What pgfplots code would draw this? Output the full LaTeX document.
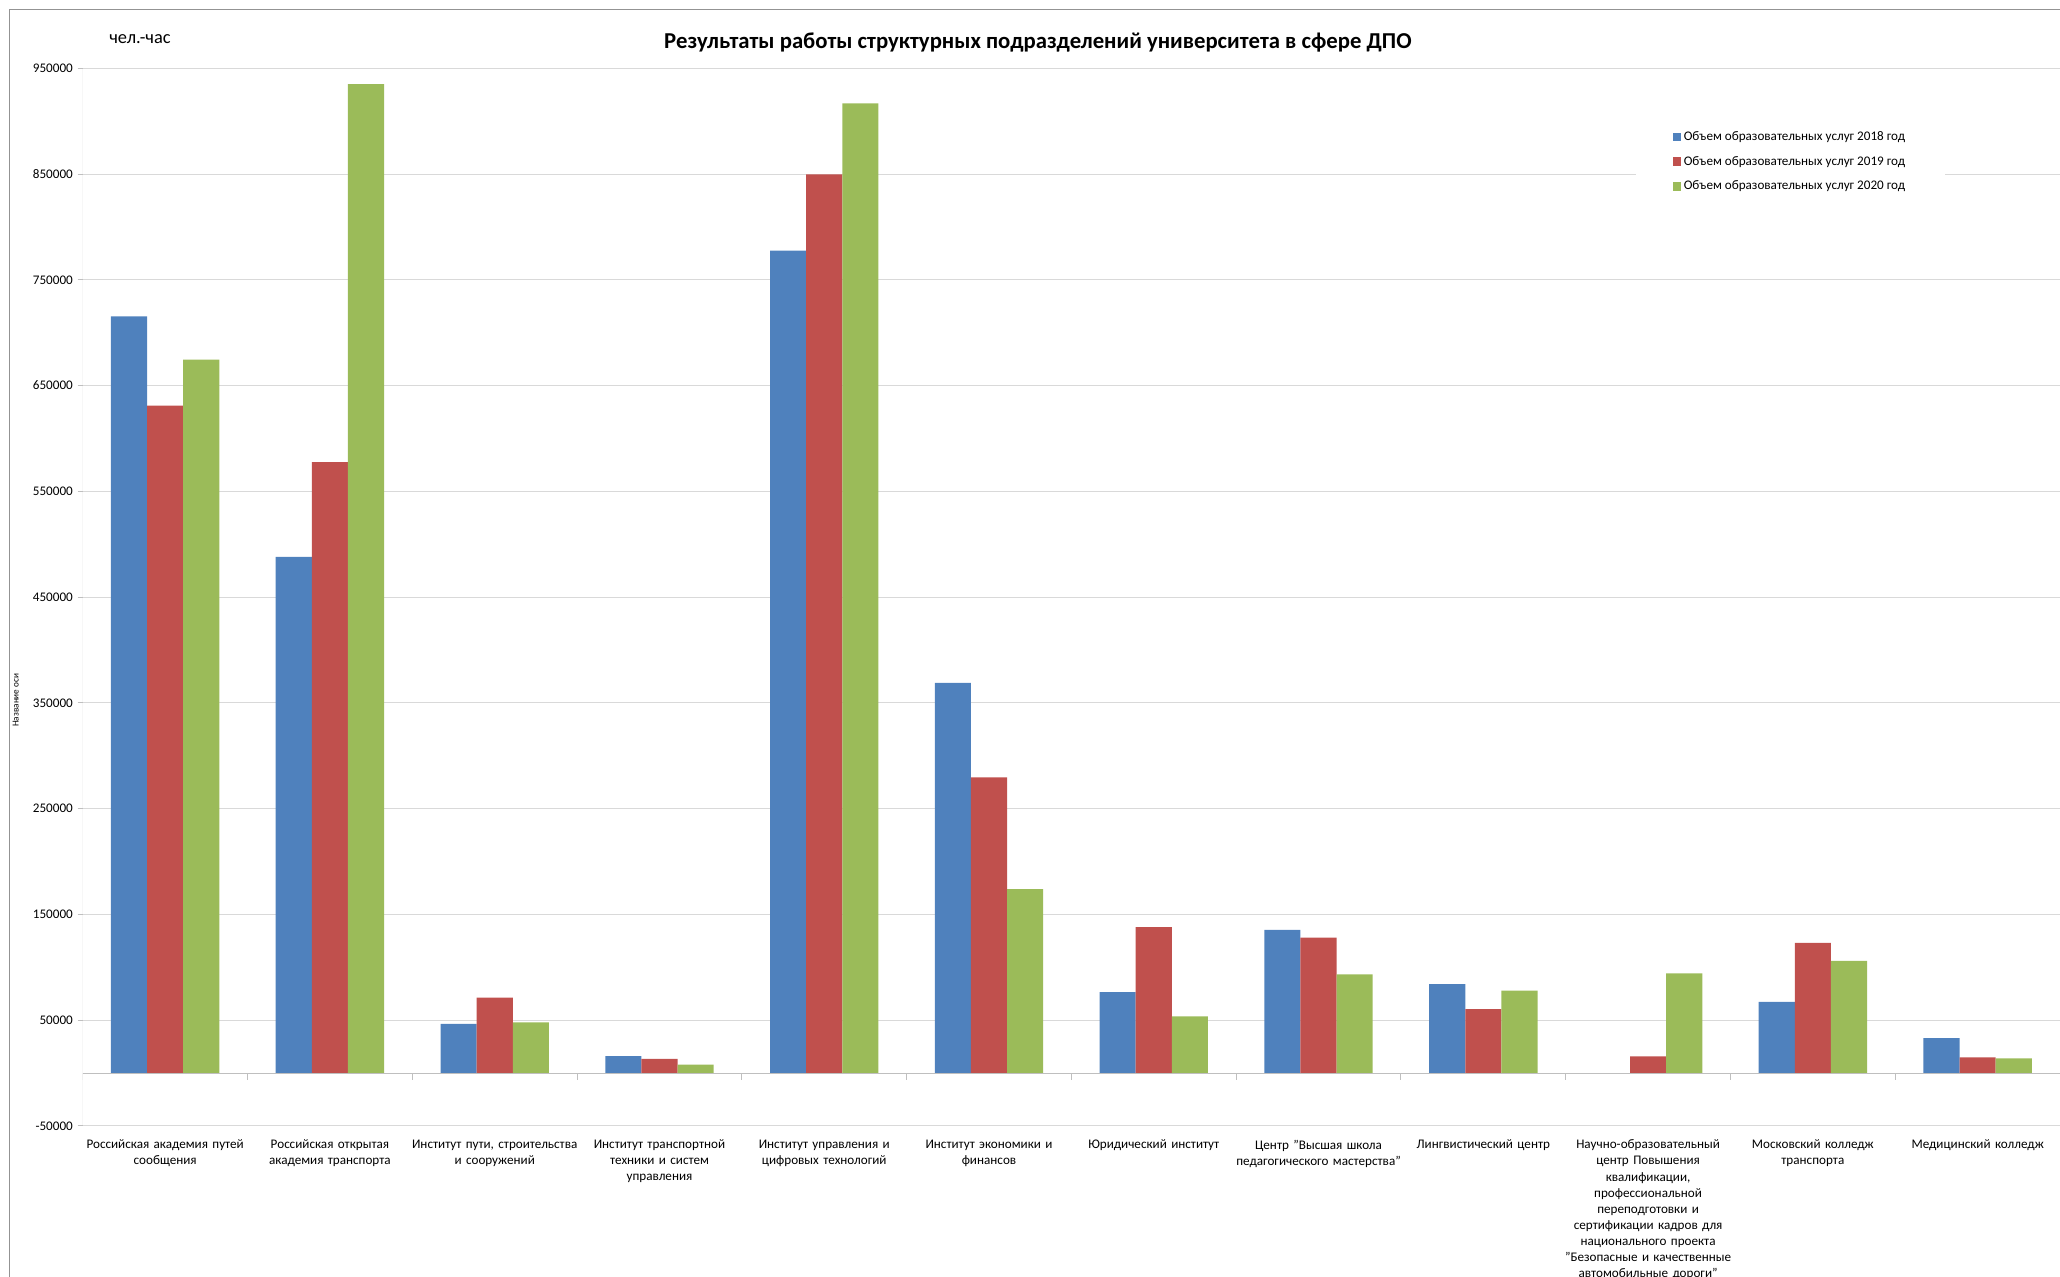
\documentclass[border=0pt]{standalone}
\usepackage{fontspec}
\setmainfont{Carlito}
\usepackage{pgfplots}
\pgfplotsset{compat=1.18}
\definecolor{c18}{HTML}{4F81BD}
\definecolor{c19}{HTML}{C0504D}
\definecolor{c20}{HTML}{9BBB59}
\definecolor{gridc}{HTML}{D9D9D9}
\definecolor{axc}{HTML}{BFBFBF}
\pgfplotsset{sqlegend/.style={legend image code/.code={\fill[##1] (0pt,-3.2pt) rectangle (6.4pt,3.2pt);}}}
\begin{document}
\begin{tikzpicture}
\useasboundingbox (-63pt,-115pt) rectangle (1505pt,857pt);
\draw[color=gray!85, line width=0.8pt] (-56pt,-300pt) -- (-56pt,850pt) -- (1700pt,850pt);
\begin{axis}[
  at={(0pt,0pt)}, anchor=south west,
  scale only axis, width=1505pt, height=805pt,
  xmin=-0.5, xmax=11.5, ymin=-50000, ymax=950000,
  scaled y ticks=false,
  ybar=0pt, bar width=27.5pt,
  axis line style={draw=none},
  ytick={-50000,50000,150000,250000,350000,450000,550000,650000,750000,850000,950000},
  yticklabels={-50000,50000,150000,250000,350000,450000,550000,650000,750000,850000,950000},
  ymajorgrids, grid style={gridc, line width=0.8pt},
  xtick={0,...,11},
  xticklabels={
    {Российская академия путей\\сообщения},
    {Российская открытая\\академия транспорта},
    {Институт пути, строительства\\и сооружений},
    {Институт транспортной\\техники и систем\\управления},
    {Институт управления и\\цифровых технологий},
    {Институт экономики и\\финансов},
    {Юридический институт},
    {Центр "Высшая школа\\педагогического мастерства"},
    {Лингвистический центр},
    {Научно-образовательный\\центр Повышения\\квалификации,\\профессиональной\\переподготовки и\\сертификации кадров для\\национального проекта\\"Безопасные и качественные\\автомобильные дороги"},
    {Московский колледж\\транспорта},
    {Медицинский колледж}},
  x tick style={draw=none},
  y tick style={axc, line width=0.8pt},
  tick align=outside, major tick length=4pt,
  yticklabel style={font=\fontsize{10}{12}\selectfont},
  xticklabel style={font=\fontsize{10}{12.3}\selectfont, align=center, text width=150pt, anchor=north, yshift=-3pt},
  legend style={at={(rel axis cs:0.7854,0.953)}, anchor=north west, draw=none, fill=white,
    inner xsep=28pt, inner ysep=8pt, font=\fontsize{10}{12}\selectfont, row sep=6.5pt,
    cells={anchor=west}},
]
\addplot[fill=c18, draw=none, sqlegend] coordinates {
 (0,715500) (1,488000) (2,46500) (3,16000) (4,777600) (5,369000)
 (6,76400) (7,135400) (8,84000) (9,0) (10,67300) (11,33000)};
\addplot[fill=c19, draw=none, sqlegend] coordinates {
 (0,631000) (1,577600) (2,71400) (3,13500) (4,849700) (5,279500)
 (6,138000) (7,128000) (8,60400) (9,15700) (10,123000) (11,14800)};
\addplot[fill=c20, draw=none, sqlegend] coordinates {
 (0,674500) (1,935000) (2,47800) (3,8000) (4,916800) (5,174000)
 (6,53500) (7,93400) (8,78000) (9,94300) (10,106000) (11,13800)};
\legend{Объем образовательных услуг 2018 год, Объем образовательных услуг 2019 год, Объем образовательных услуг 2020 год}
\draw[axc, line width=0.8pt] (axis cs:-0.5,0) -- (axis cs:11.5,0);
\draw[axc, line width=0.8pt] (axis cs:-0.5,-50000) -- (axis cs:-0.5,950000);
\pgfplotsinvokeforeach{-0.5,0.5,...,11.5}{\draw[axc, line width=0.8pt] (axis cs:#1,0) -- ++(0pt,-5pt);}
\end{axis}
\node[font=\fontsize{17.3}{20}\selectfont\bfseries] at (727pt,825pt) {Результаты работы структурных подразделений университета в сфере ДПО};
\node[anchor=west, inner sep=0pt, font=\fontsize{14}{16}\selectfont] at (20pt,827pt) {чел.-час};
\node[rotate=90, font=\fontsize{7}{8}\selectfont] at (-51pt,324pt) {Название оси};
\end{tikzpicture}
\end{document}
